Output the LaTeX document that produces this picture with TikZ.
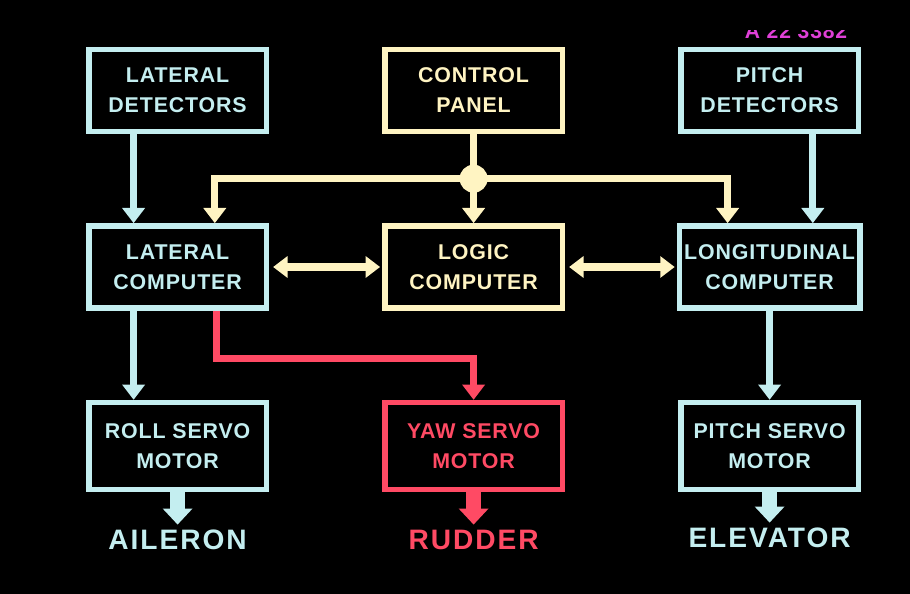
\documentclass[tikz,border=0pt]{standalone}
\usepackage{fontspec}
\setmainfont{Liberation Sans}[LetterSpace=4]
\newfontfamily\signfont{Liberation Sans}[LetterSpace=7]
\usetikzlibrary{arrows.meta, positioning, calc}
\definecolor{iceblue}{HTML}{C4EEF0}
\definecolor{cream}{HTML}{FFF4C2}
\definecolor{alarm}{HTML}{FF4A64}
\definecolor{tagpink}{HTML}{E040D8}

\begin{document}
\begin{tikzpicture}[
  node distance=2.225cm and 2.825cm,
  unit/.style={rectangle, draw=#1, fill=black, line width=0.14cm, minimum width=4.435cm, minimum height=2.05cm, align=center, text=#1, font=\bfseries\fontsize{15.2}{21.3}\selectfont},
  unit/.default=iceblue,
  servo/.style={unit=#1, minimum height=2.17cm},
  servo/.default=iceblue,
  output/.style={text=#1, inner sep=0pt, text height=0.5cm, text depth=0pt, font=\signfont\bfseries\fontsize{20}{24}\selectfont},
  feed/.style={draw=#1, line width=0.18cm, -{Triangle[length=0.38cm, width=0.55cm]}},
  both/.style={draw=cream, line width=0.18cm, {Triangle[length=0.36cm, width=0.52cm]}-{Triangle[length=0.36cm, width=0.52cm]}, shorten <=0.1cm, shorten >=0.05cm},
  drive/.style={draw=#1, line width=0.36cm, -{Triangle[length=0.4cm, width=0.72cm]}, shorten >=0.12cm}
]
\fill[black] (0,0) rectangle (22.75,-14.85);

% Boxes
\node (cpanel) [unit=cream] at (11.84,-2.26) {CONTROL\\PANEL};
\node (ldet) [unit, left=of cpanel] {LATERAL\\DETECTORS};
\node (pdet) [unit, right=of cpanel] {PITCH\\DETECTORS};
\node (logic) [unit=cream, below=of cpanel] {LOGIC\\COMPUTER};
\node (lcomp) [unit, below=of ldet] {LATERAL\\COMPUTER};
\node (longc) [unit, below=of pdet] {LONGITUDINAL\\COMPUTER};
\node (yaw) [servo=alarm, below=of logic] {YAW SERVO\\MOTOR};
\node (roll) [servo, below=of lcomp] {ROLL SERVO\\MOTOR};
\node (pservo) [servo, below=of longc] {PITCH SERVO\\MOTOR};

% Control surfaces
\node (ail) [output=iceblue, below=0.93cm of roll] {AILERON};
\node (rud) [output=alarm, below=0.93cm of yaw] {RUDDER};
\node (elev) [output=iceblue, below=0.88cm of pservo] {ELEVATOR};

% Slide number
\begin{scope}
\clip (17.5,-0.76) rectangle (22,-1.2);
\node (tag) [text=tagpink, font=\bfseries\fontsize{15}{18}\selectfont, inner sep=0pt, anchor=base] at (19.9,-0.96) {A 22 3382};
\end{scope}

% Control panel bus
\coordinate (hub) at ($(cpanel.south)!0.5!(logic.north)$);
\draw [feed=cream, -] (cpanel) -- (hub);
\draw [feed=cream] (hub) -- (logic);
\draw [feed=cream] (hub) -| ([xshift=0.93cm]lcomp.north);
\draw [feed=cream] (hub) -| ([xshift=-1.05cm]longc.north);
\fill [cream] (hub) circle (0.35cm);

% Sensor inputs
\draw [feed=iceblue] ([xshift=-1.1cm]ldet.south) -- ([xshift=-1.1cm]lcomp.north);
\draw [feed=iceblue] ([xshift=1.08cm]pdet.south) -- ([xshift=1.08cm]longc.north);

% Computer links
\draw [both] (lcomp) -- (logic);
\draw [both] (logic) -- (longc);

% Servo commands
\draw [feed=iceblue] ([xshift=-1.1cm]lcomp.south) -- ([xshift=-1.1cm]roll.north);
\draw [feed=iceblue] (longc) -- (pservo);
\draw [feed=alarm] ([xshift=0.98cm]lcomp.south) -- ++(0,-1.2) -| (yaw.north);

% Outputs
\draw [drive=iceblue] (roll) -- (ail);
\draw [drive=alarm] (yaw) -- (rud);
\draw [drive=iceblue] (pservo) -- (elev);
\end{tikzpicture}
\end{document}
